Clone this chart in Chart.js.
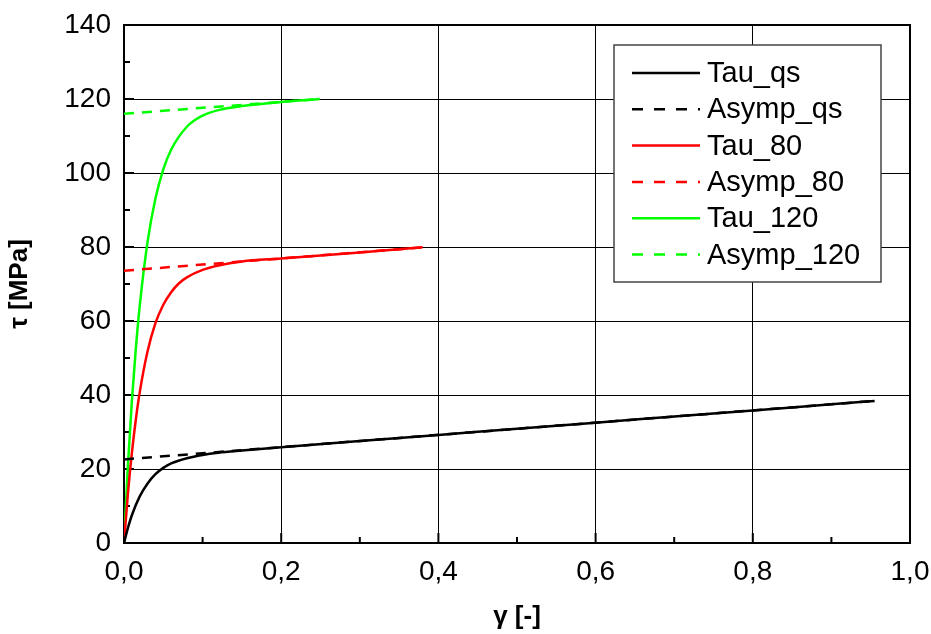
<!DOCTYPE html>
<html>
<head>
<meta charset="utf-8">
<script src="https://cdn.jsdelivr.net/npm/chart.js@4"></script>
<style>
  html, body { margin: 0; padding: 0; background: #fff; }
  #wrap { width: 931px; height: 634px; }
</style>
</head>
<body>
<div id="wrap"><canvas id="tauChart" width="931" height="634"></canvas></div>
<script>
// gamma [-] / tau [MPa]
const gammaQs = [0, 0.005, 0.01, 0.02, 0.03, 0.04, 0.05, 0.06, 0.08, 0.10, 0.12, 0.15, 0.2, 0.3, 0.4, 0.5, 0.6, 0.7, 0.8, 0.9, 0.955];
const tauQs   = [0, 4.1, 7.5, 12.6, 16.1, 18.6, 20.3, 21.5, 22.9, 23.8, 24.4, 25.0, 25.9, 27.6, 29.2, 30.9, 32.5, 34.2, 35.8, 37.5, 38.4];

const gamma80 = [0, 0.005, 0.01, 0.015, 0.02, 0.03, 0.04, 0.05, 0.06, 0.07, 0.08, 0.10, 0.12, 0.15, 0.2, 0.25, 0.3, 0.38];
const tau80   = [0, 13.4, 24.3, 33.3, 40.7, 51.8, 59.4, 64.4, 67.8, 70.2, 71.8, 73.8, 75.0, 76.1, 76.9, 77.7, 78.5, 79.9];

const gamma120 = [0, 0.005, 0.01, 0.015, 0.02, 0.03, 0.04, 0.05, 0.06, 0.08, 0.10, 0.12, 0.15, 0.2, 0.249];
const tau120   = [0, 21.0, 38.3, 52.4, 64.1, 81.4, 93.1, 101.0, 106.3, 112.5, 115.5, 117.0, 118.1, 119.2, 120.0];

const asympQsGamma = [0, 0.955];
const asympQsTau   = [22.6, 38.4];
const asymp80Gamma = [0, 0.38];
const asymp80Tau   = [73.6, 79.9];
const asymp120Gamma = [0, 0.249];
const asymp120Tau   = [116.0, 120.0];

const xTickLabels = ['0,0', '0,2', '0,4', '0,6', '0,8', '1,0'];
const yTickLabels = ['0', '20', '40', '60', '80', '100', '120', '140'];

const FONT = "'Liberation Sans', Arial, sans-serif";

function pts(xs, ys) {
    return xs.map((x, i) => ({ x: x, y: ys[i] }));
}

function line(label, xs, ys, color, dashed) {
    return {
        label: label,
        data: pts(xs, ys),
        borderColor: color,
        backgroundColor: color,
        borderWidth: 2.5,
        borderDash: dashed ? [10, 8] : [],
        pointRadius: 0,
        fill: false,
        cubicInterpolationMode: 'monotone'
    };
}

// frame + inward ticks (major and minor) on bottom and left
const frameTicks = {
    id: 'frameTicks',
    beforeDatasetsDraw(chart) {
        const { ctx, chartArea: a, scales } = chart;
        ctx.save();
        ctx.strokeStyle = '#000';
        ctx.lineWidth = 2;
        ctx.strokeRect(a.left, a.top, a.right - a.left, a.bottom - a.top);
        for (let i = 1; i < 10; i++) {
            const px = scales.x.getPixelForValue(i / 10);
            const len = i % 2 === 0 ? 10 : 6;
            ctx.beginPath();
            ctx.moveTo(px, a.bottom);
            ctx.lineTo(px, a.bottom - len);
            ctx.stroke();
        }
        for (let i = 1; i < 14; i++) {
            const py = scales.y.getPixelForValue(i * 10);
            const len = i % 2 === 0 ? 10 : 6;
            ctx.beginPath();
            ctx.moveTo(a.left, py);
            ctx.lineTo(a.left + len, py);
            ctx.stroke();
        }
        ctx.restore();
    }
};

// legend box inside the plot, top right
const boxLegend = {
    id: 'boxLegend',
    afterDraw(chart) {
        const { ctx } = chart;
        const x0 = 614, y0 = 45, w = 267, h = 237;
        ctx.save();
        ctx.fillStyle = '#fff';
        ctx.fillRect(x0, y0, w, h);
        ctx.strokeStyle = '#444';
        ctx.lineWidth = 1.5;
        ctx.strokeRect(x0, y0, w, h);
        ctx.font = '29px ' + FONT;
        ctx.textBaseline = 'middle';
        ctx.fillStyle = '#000';
        chart.data.datasets.forEach((ds, i) => {
            const y = 73 + i * 36.3;
            ctx.strokeStyle = ds.borderColor;
            ctx.lineWidth = 2.5;
            ctx.setLineDash(ds.borderDash.length ? [11, 11] : []);
            ctx.beginPath();
            ctx.moveTo(632, y);
            ctx.lineTo(700, y);
            ctx.stroke();
            ctx.setLineDash([]);
            ctx.fillText(ds.label, 707, y + 1);
        });
        ctx.restore();
    }
};

const ctx = document.getElementById('tauChart').getContext('2d');
new Chart(ctx, {
    type: 'line',
    data: {
        datasets: [
            line('Tau_qs', gammaQs, tauQs, '#000000', false),
            line('Asymp_qs', asympQsGamma, asympQsTau, '#000000', true),
            line('Tau_80', gamma80, tau80, '#ff0000', false),
            line('Asymp_80', asymp80Gamma, asymp80Tau, '#ff0000', true),
            line('Tau_120', gamma120, tau120, '#00ff00', false),
            line('Asymp_120', asymp120Gamma, asymp120Tau, '#00ff00', true)
        ]
    },
    options: {
        responsive: false,
        animation: false,
        layout: { padding: { top: 25, right: 21, left: 0, bottom: 0 } },
        plugins: {
            legend: { display: false },
            tooltip: { enabled: false }
        },
        scales: {
            x: {
                type: 'linear',
                min: 0,
                max: 1,
                afterFit(scale) {
                    scale.height = 91;
                    scale.paddingLeft = 0;
                    scale.paddingRight = 0;
                },
                ticks: {
                    stepSize: 0.2,
                    padding: 12,
                    color: '#000',
                    font: { family: FONT, size: 28 },
                    maxRotation: 0,
                    callback: (v, i) => xTickLabels[i]
                },
                grid: { color: '#000', lineWidth: 1, drawTicks: false },
                border: { display: false },
                title: {
                    display: true,
                    text: 'γ [-]',
                    color: '#000',
                    font: { family: FONT, size: 26, weight: 'bold' },
                    padding: { top: 0, bottom: 2 }
                }
            },
            y: {
                type: 'linear',
                min: 0,
                max: 140,
                afterFit(scale) {
                    scale.width = 124;
                    scale.paddingTop = 0;
                    scale.paddingBottom = 0;
                },
                ticks: {
                    stepSize: 20,
                    padding: 13,
                    color: '#000',
                    font: { family: FONT, size: 28 },
                    callback: (v, i) => yTickLabels[i]
                },
                grid: { color: '#000', lineWidth: 1, drawTicks: false },
                border: { display: false },
                title: {
                    display: true,
                    text: 'τ [MPa]',
                    color: '#000',
                    font: { family: FONT, size: 26, weight: 'bold' },
                    padding: { top: 4, bottom: 0 }
                }
            }
        }
    },
    plugins: [frameTicks, boxLegend]
});
</script>
</body>
</html>
